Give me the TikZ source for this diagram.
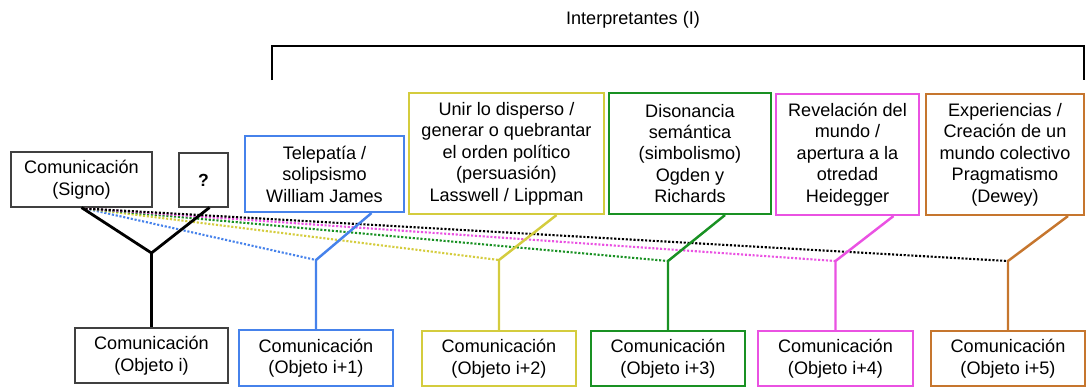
\documentclass[tikz,border=0pt]{standalone}
\usepackage{fontspec}
\setmainfont{Liberation Sans}
\usetikzlibrary{calc}
\definecolor{azul}{RGB}{70,130,235}
\definecolor{amarillo}{RGB}{212,204,62}
\definecolor{verde}{RGB}{25,145,35}
\definecolor{rosa}{RGB}{234,82,226}
\definecolor{cafe}{RGB}{198,118,46}

\begin{document}
\begin{tikzpicture}[x=0.02cm,y=-0.02cm,
                caja/.style={align=center,inner sep=0pt,font=\fontsize{10.3}{12.2}\selectfont},
                negra/.style={caja,draw=black!75,line width=0.6pt},
                marco/.style={caja,draw=#1,line width=1.2pt},
                enlace/.style={line width=1.4pt,#1},
                punteado/.style={densely dotted,line width=1.2pt,#1}]
                \useasboundingbox (0,0) rectangle (1086,387);
                \node[caja] (titulo) at (633,20) {Interpretantes (I)};
                \draw[line width=0.7pt] (272,80) -- (272,46) -- (1084,46) -- (1084,80);
                \node[negra,minimum width=2.82cm,minimum height=1.10cm] (sig) at (81.5,179.5) {Comunicación\\(Signo)};
                \node[negra,minimum width=0.98cm,minimum height=1.08cm,font=\bfseries] (que) at (203.5,180) {?};
                \node[marco=azul,minimum width=3.18cm,minimum height=1.52cm] (int1) at (324.5,174) {Telepatía /\\solipsismo\\William James};
                \node[marco=amarillo,minimum width=3.90cm,minimum height=2.42cm] (int2) at (506.5,153.5) {Unir lo disperso /\\generar o quebrantar\\el orden político\\(persuasión)\\Lasswell / Lippman};
                \node[marco=verde,minimum width=3.24cm,minimum height=2.42cm] (int3) at (690,153.5) {Disonancia\\semántica\\(simbolismo)\\Ogden y\\Richards};
                \node[marco=rosa,minimum width=2.86cm,minimum height=2.42cm] (int4) at (847.5,154.5) {Revelación del\\mundo /\\apertura a la\\otredad\\Heidegger};
                \node[marco=cafe,minimum width=3.16cm,minimum height=2.42cm] (int5) at (1005,154.5) {Experiencias /\\Creación de un\\mundo colectivo\\Pragmatismo\\(Dewey)};
                \node[negra,minimum width=3.06cm,minimum height=1.10cm] (obj0) at (151.5,355.5) {Comunicación\\(Objeto i)};
                \node[marco=azul,minimum width=3.08cm,minimum height=1.12cm] (obj1) at (316,358) {Comunicación\\(Objeto i+1)};
                \node[marco=amarillo,minimum width=3.08cm,minimum height=1.10cm] (obj2) at (499,358.5) {Comunicación\\(Objeto i+2)};
                \node[marco=verde,minimum width=3.08cm,minimum height=1.10cm] (obj3) at (668,358.5) {Comunicación\\(Objeto i+3)};
                \node[marco=rosa,minimum width=3.10cm,minimum height=1.10cm] (obj4) at (835.5,358.5) {Comunicación\\(Objeto i+4)};
                \node[marco=cafe,minimum width=3.08cm,minimum height=1.10cm] (obj5) at (1008,358.5) {Comunicación\\(Objeto i+5)};
                \coordinate (j0) at (151.5,253);
                \coordinate (j1) at (316,260);
                \coordinate (j2) at (499,260);
                \coordinate (j3) at (668,261);
                \coordinate (j4) at (835.5,261);
                \coordinate (j5) at (1008,261);
                \coordinate (src) at ($(sig.south)+(4,1)$);
                \draw[punteado=azul] (src) -- (j1);
                \draw[punteado=amarillo] (src) -- (j2);
                \draw[punteado=verde] (src) -- (j3);
                \draw[punteado=rosa] (src) -- (j4);
                \draw[punteado=black] (src) -- (j5);
                \draw[enlace=black,line width=1.6pt] (sig.south) -- (j0) -- ($(que.south)+(6,0)$);
                \draw[enlace=black,line width=1.6pt] (j0) -- (obj0.north);
                \draw[enlace=azul] ($(int1.south)+(47,0)$) -- (j1) -- (obj1.north);
                \draw[enlace=amarillo] ($(int2.south)+(50,0)$) -- (j2) -- (obj2.north);
                \draw[enlace=verde] ($(int3.south)+(35,0)$) -- (j3) -- (obj3.north);
                \draw[enlace=rosa] ($(int4.south)+(46,0)$) -- (j4) -- (obj4.north);
                \draw[enlace=cafe] ($(int5.south)+(63,0)$) -- (j5) -- (obj5.north);
\end{tikzpicture}
\end{document}
